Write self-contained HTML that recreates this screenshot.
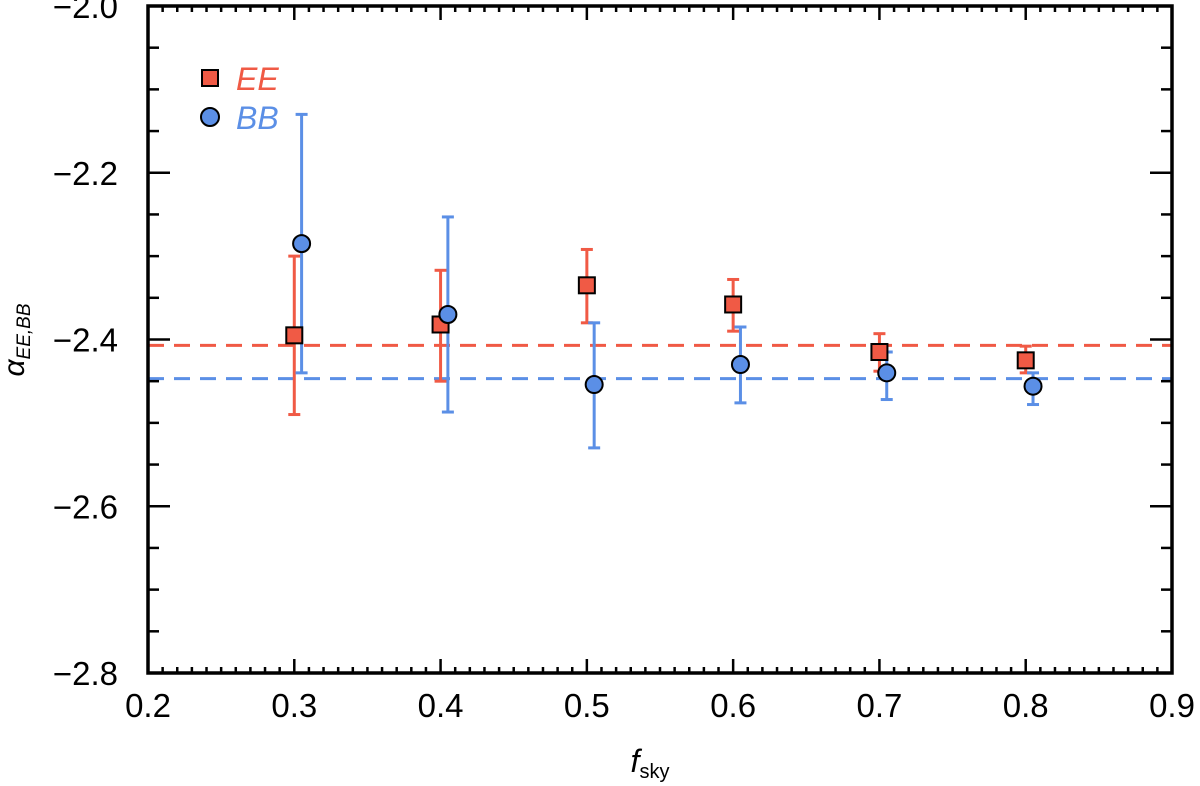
<!DOCTYPE html>
<html><head><style>body{margin:0;background:#fff}svg{display:block}text{font-family:"Liberation Sans",sans-serif}</style></head>
<body>
<svg id="c" width="1200" height="786"></svg>
<script>
const xs=[0.3,0.4,0.5,0.6,0.7,0.8];
const eeVal=[-2.395,-2.382,-2.335,-2.358,-2.415,-2.425];
const eeLo=[-2.49,-2.45,-2.38,-2.39,-2.438,-2.44];
const eeHi=[-2.30,-2.317,-2.292,-2.328,-2.393,-2.408];
const bbX=[0.305,0.405,0.505,0.605,0.705,0.805];
const bbVal=[-2.285,-2.37,-2.454,-2.43,-2.44,-2.456];
const bbLo=[-2.44,-2.487,-2.53,-2.476,-2.472,-2.478];
const bbHi=[-2.13,-2.253,-2.38,-2.385,-2.415,-2.44];
const eeRef=-2.407, bbRef=-2.447;
const xTicks=[0.2,0.3,0.4,0.5,0.6,0.7,0.8,0.9];
const yTicks=[-2.0,-2.2,-2.4,-2.6,-2.8];
const L=148,R=1172,T=6,B=673;
const X=v=>L+(v-0.2)/0.7*(R-L), Y=v=>T+(-2.0-v)/0.8*(B-T);
const svg=document.getElementById('c'),NS='http://www.w3.org/2000/svg';
function el(t,a,name,txt){const e=document.createElementNS(NS,t);for(const k in a)e.setAttribute(k,a[k]);


if(txt!==undefined)e.textContent=txt;svg.appendChild(e);return e;}
const RED='#f05a45',BLUE='#5b8fe6';
el('line',{x1:L,x2:R,y1:Y(eeRef),y2:Y(eeRef),stroke:RED,'stroke-width':3,'stroke-dasharray':'16,10'},'ee-reference-line');
el('line',{x1:L,x2:R,y1:Y(bbRef),y2:Y(bbRef),stroke:BLUE,'stroke-width':3,'stroke-dasharray':'16,10'},'bb-reference-line');
function err(x,lo,hi,c,n){const px=X(x);
el('line',{x1:px,x2:px,y1:Y(lo),y2:Y(hi),stroke:c,'stroke-width':3},n);
el('line',{x1:px-6,x2:px+6,y1:Y(lo),y2:Y(lo),stroke:c,'stroke-width':3},n+'-cap-low');
el('line',{x1:px-6,x2:px+6,y1:Y(hi),y2:Y(hi),stroke:c,'stroke-width':3},n+'-cap-high');}
xs.forEach((x,i)=>err(x,eeLo[i],eeHi[i],RED,'ee-error-bar'));
bbX.forEach((x,i)=>err(x,bbLo[i],bbHi[i],BLUE,'bb-error-bar'));
xs.forEach((x,i)=>el('rect',{x:X(x)-8,y:Y(eeVal[i])-8,width:16,height:16,fill:RED,stroke:'#000','stroke-width':2},'ee-point'));
bbX.forEach((x,i)=>el('circle',{cx:X(x),cy:Y(bbVal[i]),r:8.5,fill:BLUE,stroke:'#000','stroke-width':2},'bb-point'));
el('rect',{x:L,y:T,width:R-L,height:B-T,fill:'none',stroke:'#000','stroke-width':3.5},'plot-frame');
for(let i=0;i<=70;i++){const v=0.2+i*0.01,px=X(v),maj=i%10===0,l=maj?14:6;
el('line',{x1:px,x2:px,y1:B,y2:B-l,stroke:'#000','stroke-width':2.5},'x-tick');
el('line',{x1:px,x2:px,y1:T,y2:T+l,stroke:'#000','stroke-width':2.5},'x-tick-top');}
for(let i=0;i<=16;i++){const v=-2.0-i*0.05,py=Y(v),maj=i%4===0,l=maj?22:11;
el('line',{x1:L,x2:L+l,y1:py,y2:py,stroke:'#000','stroke-width':2.5},'y-tick');
el('line',{x1:R,x2:R-l,y1:py,y2:py,stroke:'#000','stroke-width':2.5},'y-tick-right');}
xTicks.forEach(v=>el('text',{x:X(v),y:B+44,'font-size':33,'text-anchor':'middle'},'x-tick-label',v.toFixed(1)));
yTicks.forEach(v=>el('text',{x:L-30,y:Y(v)+12,'font-size':33,'text-anchor':'end'},'y-tick-label','\u2212'+Math.abs(v).toFixed(1)));
const xt=el('text',{x:650,y:772,'font-size':32,'text-anchor':'middle','font-family':'Liberation Serif','font-style':'italic'},'x-axis-title','f');
const s=document.createElementNS(NS,'tspan');s.setAttribute('font-size',20);s.setAttribute('font-style','normal');s.setAttribute('dy',6);s.textContent='sky';xt.appendChild(s);
const yt=el('text',{x:0,y:0,'font-size':30,'font-family':'Liberation Serif','font-style':'italic',transform:'translate(24,340) rotate(-90)','text-anchor':'middle'},'y-axis-title','α');
const s2=document.createElementNS(NS,'tspan');s2.setAttribute('font-size',19);s2.setAttribute('dy',6);s2.textContent='EE,BB';yt.appendChild(s2);
el('rect',{x:202,y:70,width:16,height:16,fill:RED,stroke:'#000','stroke-width':2},'legend-ee-marker');
el('text',{x:236,y:90,'font-size':32,fill:RED,'font-family':'Liberation Serif','font-style':'italic'},'legend-ee-label','EE');
el('circle',{cx:210,cy:117,r:9,fill:BLUE,stroke:'#000','stroke-width':2},'legend-bb-marker');
el('text',{x:236,y:129,'font-size':32,fill:BLUE,'font-family':'Liberation Serif','font-style':'italic'},'legend-bb-label','BB');
</script>
</body></html>
